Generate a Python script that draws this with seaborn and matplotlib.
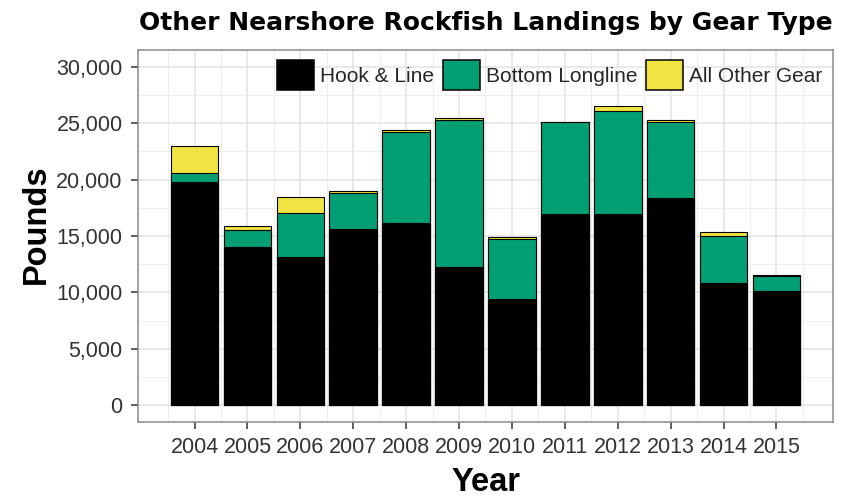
import pandas as pd
import seaborn as sns
import matplotlib.pyplot as plt
from matplotlib.patches import Patch
from matplotlib.ticker import FuncFormatter, MultipleLocator

# landings by gear type (pounds)
years = [2004, 2005, 2006, 2007, 2008, 2009, 2010, 2011, 2012, 2013, 2014, 2015]
hook_line = [19750, 14050, 13150, 15650, 16150, 12250, 9400, 16950, 16950, 18350, 10850, 10150]
bottom_longline = [800, 1450, 3850, 3150, 8050, 13050, 5350, 8150, 9150, 6750, 4150, 1300]
all_other_gear = [2450, 400, 1500, 200, 200, 200, 200, 50, 450, 200, 350, 50]

gear_labels = ['Hook & Line', 'Bottom Longline', 'All Other Gear']
gear_colors = ['#000000', '#009E73', '#F0E442']

df = pd.DataFrame({'Year': years, 'Hook & Line': hook_line,
                   'Bottom Longline': bottom_longline, 'All Other Gear': all_other_gear})
# cumulative heights so the bars can be drawn on top of each other
df['top_bl'] = df['Hook & Line'] + df['Bottom Longline']
df['top_all'] = df['top_bl'] + df['All Other Gear']

sns.set_style('white')
plt.rcParams['font.family'] = ['Liberation Sans', 'DejaVu Sans']

fig = plt.figure(figsize=(8.5, 4.98), dpi=100)
ax = fig.add_axes([138 / 850, 1 - 422 / 498, 695 / 850, 372 / 498])

for col, color in [('top_all', gear_colors[2]), ('top_bl', gear_colors[1]), ('Hook & Line', gear_colors[0])]:
    sns.barplot(data=df, x='Year', y=col, color=color, saturation=1, width=0.9,
                edgecolor='black', linewidth=0.8, ax=ax, zorder=3)

ax.set_xlim(-1.07, len(years) - 1 + 1.07)
ax.set_ylim(-1500, 31500)
ax.yaxis.set_major_locator(MultipleLocator(5000))
ax.yaxis.set_minor_locator(MultipleLocator(2500))
ax.set_xticks(range(len(years)), [str(y) for y in years])
ax.set_xticks([i - 0.5 for i in range(len(years) + 1)], minor=True)
ax.yaxis.set_major_formatter(FuncFormatter(lambda v, p: f'{int(v):,}'))

ax.grid(which='major', color='#E3E3E3', linewidth=1.1, zorder=0)
ax.grid(which='minor', color='#EEEEEE', linewidth=0.7, zorder=0)
ax.set_axisbelow(True)
for s in ax.spines.values():
    s.set_color('#8A8A8A')
    s.set_linewidth(1.1)

ax.tick_params(which='major', length=5, width=1.1, color='#333333', labelsize=15.5,
               labelcolor='#333333', bottom=True, left=True)
ax.tick_params(axis='x', pad=6)
ax.tick_params(axis='y', pad=6)
ax.tick_params(which='minor', length=0)

ax.set_title('Other Nearshore Rockfish Landings by Gear Type', fontsize=18,
             fontweight='bold', family='DejaVu Sans', color='black', pad=14.4)
ax.set_xlabel('Year', fontsize=23.5, fontweight='bold', color='black', va='center')
ax.xaxis.set_label_coords(0.5, (422 - 482) / 372)
ax.set_ylabel('Pounds', fontsize=23.5, fontweight='bold', color='black', va='center')
ax.yaxis.set_label_coords((36 - 138) / 695, 0.532)

handles = [Patch(facecolor=c, edgecolor='black', linewidth=1.1) for c in gear_colors]
ax.legend(handles, gear_labels, loc='upper right', bbox_to_anchor=(1.0, 1.0), ncol=3,
          frameon=False, fontsize=15, handlelength=1.78, handleheight=1.78,
          handletextpad=0.3, columnspacing=0.4, borderaxespad=0.1)

fig.savefig('out.png', dpi=100)
